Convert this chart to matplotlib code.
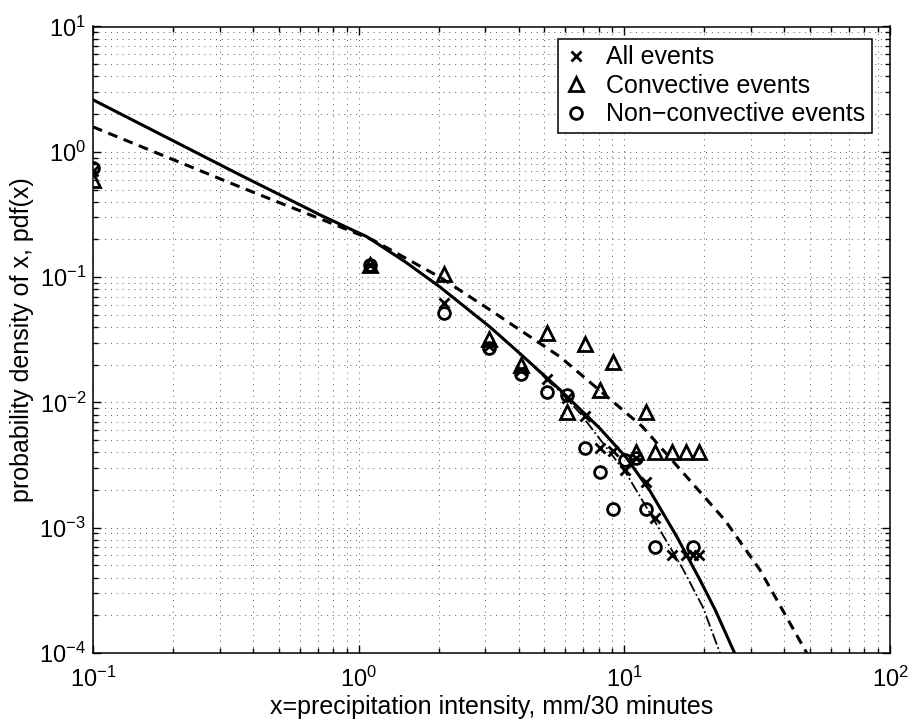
import matplotlib
matplotlib.use('Agg')
import matplotlib.pyplot as plt
from matplotlib.ticker import LogLocator, NullFormatter

plt.rcParams['font.family'] = ['Liberation Sans', 'DejaVu Sans']
plt.rcParams['mathtext.fontset'] = 'custom'
plt.rcParams['mathtext.rm'] = 'Liberation Sans'
plt.rcParams['mathtext.it'] = 'Liberation Sans:italic'

# ---------------- data ----------------
# All events (crosses)
x_all = [0.1, 1.1, 2.1, 3.1, 4.1, 5.1, 6.1, 7.1, 8.1, 9.1, 10.1, 11.1, 12.1, 13.1, 15.1, 17.1, 18.1, 19.1]
y_all = [0.70, 0.125, 0.062, 0.028, 0.018, 0.0155, 0.0108, 0.0078, 0.0043, 0.0041, 0.0029, 0.0036,
         0.0023, 0.0012, 0.0006, 0.0006, 0.0006, 0.0006]

# Convective events (triangles)
x_conv = [0.1, 1.1, 2.1, 3.1, 4.1, 5.1, 6.1, 7.1, 8.1, 9.1, 11.1, 12.1, 13.1, 15.1, 17.1, 19.1]
y_conv = [0.60, 0.125, 0.105, 0.032, 0.020, 0.036, 0.0084, 0.029, 0.0126, 0.021, 0.004, 0.0084,
          0.004, 0.004, 0.004, 0.004]

# Non-convective events (circles)
x_non = [0.1, 1.1, 2.1, 3.1, 4.1, 5.1, 6.1, 7.1, 8.1, 9.1, 10.1, 11.1, 12.1, 13.1, 18.1]
y_non = [0.74, 0.125, 0.052, 0.027, 0.017, 0.012, 0.0115, 0.0043, 0.0028, 0.0014, 0.0035, 0.0036,
         0.0014, 0.0007, 0.0007]

# Fitted curves
x_fit_all = [0.1, 0.357, 0.715, 1.074, 1.5, 2.02, 3.12, 4.05, 5.73, 8.09, 10.2, 12.5, 15.8, 19.3,
             22.0, 26.0]
y_fit_all = [2.60, 0.655, 0.314, 0.21, 0.132, 0.0836, 0.040, 0.0245, 0.0126, 0.0062, 0.0036, 0.00196,
             0.00084, 0.00038, 0.00022, 0.0001]

x_fit_conv = [0.1, 0.357, 0.852, 1.13, 2.02, 3.12, 5.73, 11.7, 23.9, 32.4, 48.6]
y_fit_conv = [1.58, 0.525, 0.252, 0.198, 0.100, 0.0548, 0.0231, 0.0064, 0.00115, 0.00046, 0.0001]

x_fit_non = [0.1, 0.357, 0.715, 1.074, 1.5, 2.02, 3.12, 4.05, 5.73, 6.81, 10.2, 12.5, 16.6, 19.8, 22.9]
y_fit_non = [2.60, 0.655, 0.314, 0.21, 0.132, 0.0836, 0.040, 0.0245, 0.0122, 0.0082, 0.00268, 0.0013,
             0.00047, 0.00023, 0.0001]

labels = ['All events', 'Convective events', 'Non\u2212convective events']
xlabel = 'x=precipitation intensity, mm/30 minutes'
ylabel = 'probability density of x, pdf(x)'

# ---------------- plot ----------------
fig = plt.figure(figsize=(9.09, 7.23), dpi=100)
ax = fig.add_axes([93/909, 70/723, 797/909, 626.5/723])

ax.set_xscale('log')
ax.set_yscale('log')

ax.plot(x_fit_all, y_fit_all, '-', color='black', lw=2.2, zorder=3)
ax.plot(x_fit_conv, y_fit_conv, '--', color='black', lw=2.2, dashes=(3.2, 2.2), zorder=3)
ax.plot(x_fit_non, y_fit_non, '-.', color='black', lw=1.3, zorder=3)

h1, = ax.plot(x_all, y_all, 'x', color='black', ms=6.5, mew=2.0, ls='none', zorder=4, label=labels[0])
h2, = ax.plot(x_conv, y_conv, '^', mfc='none', mec='black', ms=10, mew=2.0, ls='none', zorder=4,
              label=labels[1])
h3, = ax.plot(x_non, y_non, 'o', mfc='none', mec='black', ms=8.5, mew=2.0, ls='none', zorder=4,
              label=labels[2])

ax.set_xlim(0.1, 100)
ax.set_ylim(1e-4, 10)

ax.xaxis.set_major_locator(LogLocator(base=10, numticks=10))
ax.yaxis.set_major_locator(LogLocator(base=10, numticks=10))
ax.xaxis.set_minor_locator(LogLocator(base=10, subs=range(2, 10), numticks=20))
ax.yaxis.set_minor_locator(LogLocator(base=10, subs=range(2, 10), numticks=20))
ax.xaxis.set_minor_formatter(NullFormatter())
ax.yaxis.set_minor_formatter(NullFormatter())

ax.grid(True, which='both', linestyle=(0, (1, 5)), color='0.35', linewidth=0.7)
ax.tick_params(which='both', direction='in', top=True, right=True, width=1.0, labelsize=17)
ax.tick_params(which='major', length=6)
ax.tick_params(axis='x', which='major', pad=10)
ax.tick_params(axis='y', which='major', pad=5)
ax.tick_params(which='minor', length=3.5)
for s in ax.spines.values():
    s.set_linewidth(1.1)

ax.set_xlabel(xlabel, fontsize=18, labelpad=2)
ax.set_ylabel(ylabel, fontsize=18)
ax.yaxis.set_label_coords(-0.074, 0.5)

leg = ax.legend(handles=[h1, h2, h3], loc='upper right', bbox_to_anchor=(0.977, 0.980),
                borderaxespad=0, fontsize=18, frameon=True, fancybox=False, edgecolor='black',
                framealpha=1, handlelength=1.0, handletextpad=0.7, labelspacing=0.18,
                borderpad=0.25)
leg.get_frame().set_linewidth(1.1)

fig.savefig('out.png', dpi=100)
